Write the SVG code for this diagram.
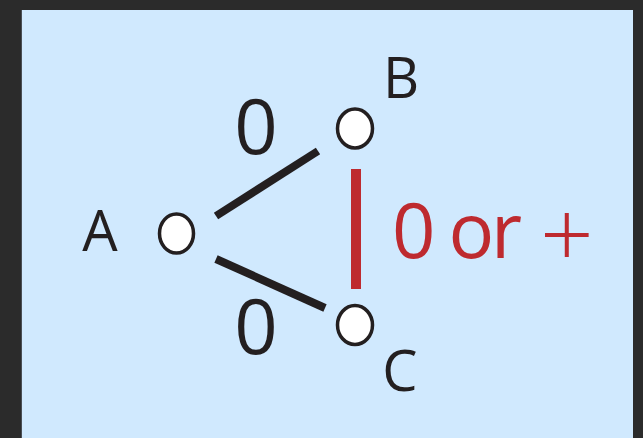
<svg xmlns="http://www.w3.org/2000/svg" width="643" height="438" viewBox="0 0 643 438">
  <style>
    .node { fill: #ffffff; stroke: #231f20; stroke-width: 3.5; }
    .lbl { font-family: "Open Sans", "Noto Sans", sans-serif; fill: #231f20; text-anchor: middle; }
    .edge { stroke: #231f20; stroke-width: 8; stroke-linecap: butt; }
    .red { fill: #be2a2f; }
  </style>
  <!-- frame and panel -->
  <rect x="0" y="0" width="643" height="438" fill="#2b2b2b"/>
  <rect x="21" y="10" width="612" height="428" fill="#4a4f55"/>
  <rect x="22" y="10" width="611" height="428" fill="#d0e9fe"/>

  <g id="connectors">
    <line class="edge" x1="216" y1="216" x2="318" y2="151"/>
    <line class="edge" x1="216" y1="259" x2="325" y2="308"/>
    <rect x="351" y="169" width="10" height="120" fill="#be2a2f"/>
  </g>

  <g id="node-A">
    <ellipse class="node" cx="176.5" cy="233.5" rx="17" ry="19.5"/>
    <text class="lbl" x="100" y="251" font-size="56">A</text>
  </g>
  <g id="node-B">
    <ellipse class="node" cx="355" cy="128.5" rx="17.5" ry="19.5"/>
    <text class="lbl" x="401" y="98" font-size="56">B</text>
  </g>
  <g id="node-C">
    <ellipse class="node" cx="355" cy="325" rx="17.5" ry="19.5"/>
    <text class="lbl" x="400" y="391" font-size="56">C</text>
  </g>

  <g id="edge-labels">
    <text class="lbl" x="256" y="154" font-size="76">0</text>
    <text class="lbl" x="256" y="354" font-size="76">0</text>
    <text class="lbl red" y="258" font-size="76" style="text-anchor:start"><tspan x="392" textLength="130" lengthAdjust="spacing">0 or</tspan><tspan x="540" y="268" font-size="94" font-weight="300">+</tspan></text>
  </g>
</svg>
